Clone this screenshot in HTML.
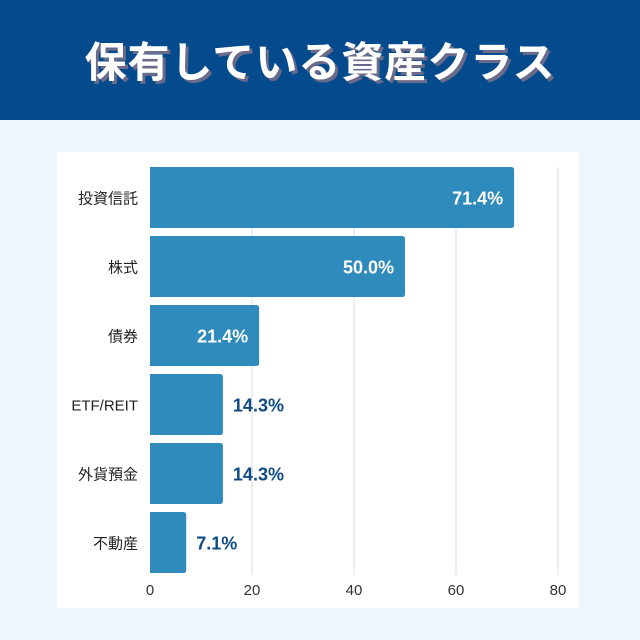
<!DOCTYPE html>
<html><head><meta charset="utf-8"><style>
body{margin:0;width:640px;height:640px;background:#eef6fd;font-family:"Liberation Sans","Noto Sans CJK JP",sans-serif;overflow:hidden;position:relative}
#hdr{position:absolute;left:0;top:0;width:640px;height:120px;background:#034b8d}
#title{position:absolute;left:0;top:29px;width:640px;text-align:center;color:#fff;font-size:42px;font-weight:bold;text-shadow:3px 3px 0 #6a6a8a;letter-spacing:1px}
#panel{position:absolute;left:57px;top:152px;width:522px;height:456px;background:#fff}
svg{position:absolute;left:0;top:0}
</style></head><body>
<div id="hdr"></div>
<div id="title">保有している資産クラス</div>
<div id="panel"></div>
<svg id="chart" width="640" height="640"></svg>
<script>
const categories=["投資信託","株式","債券","ETF/REIT","外貨預金","不動産"];
const values=[71.4,50.0,21.4,14.3,14.3,7.1];
const labels=["71.4%","50.0%","21.4%","14.3%","14.3%","7.1%"];
const ticks=[0,20,40,60,80];
const NS="http://www.w3.org/2000/svg";
const svg=document.getElementById('chart');
const x=v=>150+v*5.1;
const yTop=i=>167+i*69;
const bh=61;
function mk(t,a){const e=document.createElementNS(NS,t);for(const k in a)e.setAttribute(k,a[k]);svg.appendChild(e);return e;}
ticks.forEach(t=>{
  if(t>0){const g=mk('line',{x1:x(t),x2:x(t),y1:167,y2:575,stroke:'#dcdcdc','stroke-width':1});
  
  }
  const tl=mk('text',{x:x(t),y:595,'text-anchor':'middle','font-size':15,fill:'#333'});
  tl.textContent=t;
  
  
});
categories.forEach((c,i)=>{
  const y=yTop(i);
  const w=x(values[i])-x(0);
  const r=mk('path',{d:`M${x(0)},${y}H${x(0)+w-3}Q${x(0)+w},${y} ${x(0)+w},${y+3}V${y+bh-3}Q${x(0)+w},${y+bh} ${x(0)+w-3},${y+bh}H${x(0)}Z`,fill:'#2e8bbb'});
  
  
  const cl=mk('text',{x:138,y:y+bh/2+6,'text-anchor':'end','font-size':15,fill:'#222'});
  cl.textContent=c;
  
  
  const inside=values[i]>20;
  const vl=mk('text',{x:inside?x(values[i])-11:x(values[i])+10,y:y+bh/2+7,'text-anchor':inside?'end':'start','font-size':18,'font-weight':'bold',fill:inside?'#fff':'#0d4a86'});
  vl.textContent=labels[i];
  
  
});
</script>
</body></html>
